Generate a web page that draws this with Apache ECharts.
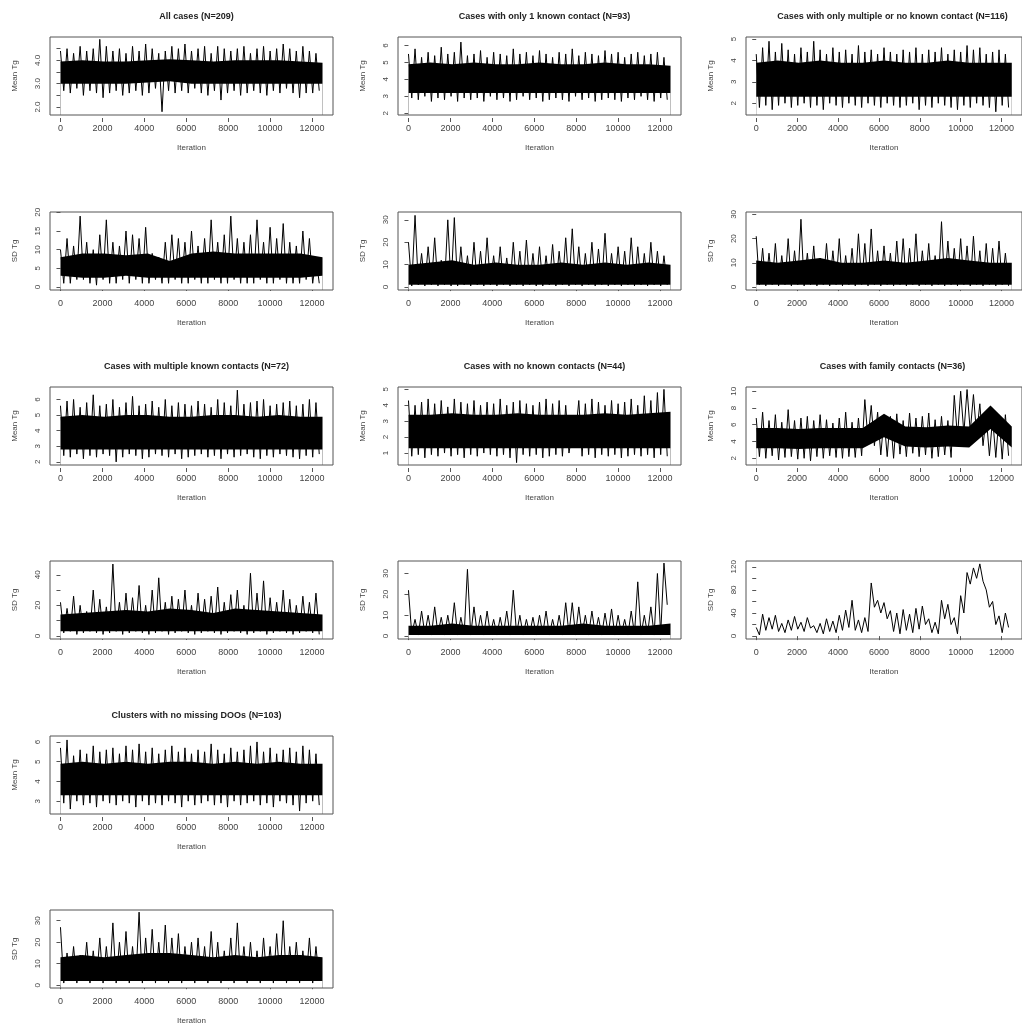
<!DOCTYPE html>
<html>
<head>
<meta charset="utf-8">
<script src="https://cdn.jsdelivr.net/npm/echarts@6/dist/echarts.min.js"></script>
<style>
  html, body { margin: 0; padding: 0; background: #fff; }
  #main { width: 1022px; height: 1028px; }
</style>
</head>
<body>
<div id="main"></div>
<script>
// panel titles (one per mean/sd pair)
var titles = ["All cases (N=209)", "Cases with only 1 known contact (N=93)",
  "Cases with only multiple or no known contact (N=116)", "Cases with multiple known contacts (N=72)",
  "Cases with no known contacts (N=44)", "Cases with family contacts (N=36)",
  "Clusters with no missing DOOs (N=103)"];

var xTicks = [0, 2000, 4000, 6000, 8000, 10000, 12000];

// trace envelopes: spike tops (hi) and bottoms (lo)
var p1mHi = [4.4,4.5,4.3,4.6,4.4,4.5,4.9,4.6,4.4,4.5,4.3,4.6,4.4,4.7,4.5,4.3,4.4,4.6,4.5,4.7,4.4,4.5,4.6,4.3,4.6,4.5,4.4,4.5,4.6,4.3,4.5,4.6,4.4,4.5,4.7,4.5,4.4,4.6,4.4,4.3];
var p1mLo = [2.7,2.6,2.8,2.5,2.7,2.6,2.4,2.6,2.7,2.5,2.6,2.7,2.5,2.6,2.8,1.8,2.7,2.6,2.7,2.6,2.8,2.6,2.5,2.7,2.3,2.6,2.7,2.5,2.6,2.7,2.6,2.5,2.7,2.6,2.8,2.6,2.4,2.6,2.6,2.7];
var p1sHi = [10,13,11,19,12,10,14,18,12,11,15,14,13,16,9,8,12,14,13,12,15,11,13,18,12,14,19,13,12,14,18,12,16,13,17,12,11,15,13,8];
var p1sLo = [1,1,2,2,1,0.5,2,1,1,2,1,2,1,1,2,1,1,2,1,1,2,1,1,2,1,1,2,1,1,1,2,1,1,2,1,1,1,2,1,1];
var p2mHi = [5.5,5.8,5.3,5.6,5.4,5.9,5.5,5.6,6.2,5.4,5.5,5.7,5.3,5.6,5.5,5.4,5.8,5.5,5.6,5.4,5.7,5.5,5.3,5.6,5.5,5.8,5.4,5.6,5.5,5.4,5.7,5.5,5.6,5.3,5.5,5.6,5.4,5.5,5.6,5.3];
var p2mLo = [2.9,2.8,3.0,2.7,2.9,2.8,3.0,2.7,2.9,2.8,2.9,2.7,3.0,2.8,2.9,2.7,2.8,3.0,2.8,2.9,2.7,2.8,2.9,2.8,2.7,3.0,2.8,2.9,2.7,2.8,2.9,2.8,2.7,2.9,2.8,3.0,2.8,2.7,2.9,2.8];
var p2sHi = [20,32,15,18,22,12,30,31,18,14,20,16,22,14,18,13,20,16,21,15,18,14,19,16,22,26,18,15,20,17,24,15,18,16,22,18,15,20,16,14];
var p2sLo = [0.5,1,0.5,1,0.5,1,0.5,0.5,1,0.5,1,0.5,1,0.5,1,0.5,1,0.5,1,0.5,0.5,1,0.5,1,0.5,1,0.5,1,0.5,1,0.5,1,0.5,1,0.5,1,0.5,1,0.5,1];
var p3mHi = [4.3,4.6,4.9,4.4,4.8,4.5,4.3,4.6,4.4,4.9,4.5,4.3,4.6,4.4,4.5,4.3,4.7,4.4,4.5,4.3,4.6,4.4,4.3,4.5,4.4,4.6,4.3,4.5,4.4,4.6,4.3,4.5,4.4,4.7,4.5,4.6,4.3,4.4,4.5,4.3];
var p3mLo = [1.8,1.9,1.7,1.9,2.0,1.8,1.9,2.0,1.8,1.9,1.7,2.0,1.9,1.8,2.0,1.9,1.8,2.0,1.9,1.8,2.0,1.9,1.8,1.9,2.0,1.7,1.9,1.8,2.0,1.9,1.8,1.7,1.9,1.8,2.0,1.9,1.8,1.6,1.9,1.8];
var p3sHi = [21,16,14,18,13,20,15,28,14,17,12,18,15,20,13,16,22,18,24,15,17,14,19,20,16,22,15,18,13,27,19,16,20,17,21,15,18,16,19,14];
var p3sLo = [1,0.5,1,0.5,1,0.5,1,0.5,1,0.5,1,0.5,1,0.5,1,0.5,1,0.5,1,0.5,1,0.5,1,0.5,1,0.5,1,0.5,1,0.5,1,0.5,1,0.5,1,0.5,1,0.5,1,0.5];
var p4mHi = [5.6,5.9,6.0,5.5,5.8,6.3,5.6,5.7,6.0,5.5,5.8,6.2,5.6,5.7,5.9,5.5,6.0,5.6,5.8,5.7,5.6,5.9,5.7,5.5,6.0,5.8,5.6,6.6,5.7,5.8,5.9,6.0,5.6,5.7,5.8,5.9,5.6,5.7,6.0,5.8];
var p4mLo = [2.4,2.3,2.5,2.2,2.4,2.3,2.5,2.4,2.0,2.3,2.5,2.4,2.2,2.3,2.5,2.4,2.3,2.5,2.2,2.3,2.4,2.5,2.3,2.4,2.2,2.5,2.3,2.4,2.5,2.3,2.2,2.4,2.3,2.5,2.4,2.3,2.2,2.4,2.3,2.5];
var p4sHi = [22,18,26,20,16,30,24,19,47,22,28,25,33,20,30,38,22,26,24,30,20,28,24,26,32,22,27,30,20,41,28,36,25,22,30,24,20,26,22,28];
var p4sLo = [2,3,1,2,3,2,1,2,3,1,2,3,2,1,2,3,1,2,3,2,1,2,3,2,1,2,3,2,1,2,3,1,2,3,2,1,2,3,2,1];
var p5mHi = [4.3,4.0,4.2,4.4,4.1,4.3,3.9,4.4,4.2,4.1,4.3,4.0,4.2,4.1,4.4,4.0,4.2,4.3,4.1,4.0,4.2,4.4,4.1,4.3,4.0,2.3,4.3,4.1,4.4,4.2,4.0,4.3,4.1,4.2,4.4,4.0,4.6,4.3,4.8,5.0];
var p5mLo = [0.8,0.9,0.7,0.9,0.8,1.0,0.8,0.9,0.7,0.9,0.8,1.0,0.9,0.8,0.9,0.7,0.4,0.9,0.8,0.9,0.7,0.8,0.9,0.8,1.0,2.1,0.8,0.9,0.7,0.9,0.8,0.9,0.7,0.8,0.9,0.8,0.9,0.7,0.9,0.8];
var p5sHi = [22,8,12,10,14,9,10,16,9,32,14,10,12,8,9,12,22,10,8,9,10,12,8,10,16,16,14,10,12,9,11,13,10,8,12,26,10,14,30,35];
var p5sLo = [1,0.5,1,0.5,1,0.5,1,0.5,1,0.5,1,0.5,1,0.5,1,0.5,1,0.5,1,0.5,1,0.5,1,0.5,1,0.5,1,0.5,1,0.5,1,0.5,1,0.5,1,0.5,1,0.5,1,15];
var p6mHi = [6.8,7.5,6.5,7.2,6.3,7.8,6.5,6.8,7.0,6.5,7.2,6.6,6.2,6.8,7.5,6.3,6.8,9.0,8.3,7.5,6.8,7.0,7.3,6.5,7.4,6.8,7.0,7.4,6.6,7.0,6.5,9.5,10.0,10.2,9.6,8.5,7.0,6.8,7.0,7.2];
var p6mLo = [2.2,2.0,2.3,1.8,2.1,2.2,1.9,2.0,1.7,2.2,2.0,2.3,2.1,2.0,2.2,2.1,2.3,4.2,3.5,2.4,2.2,2.0,2.5,2.2,2.6,2.2,2.4,2.0,2.2,2.4,2.1,4.5,5.0,5.2,4.8,3.5,2.3,2.1,1.9,2.3];
var p6sHi = [15,38,32,36,22,28,34,24,32,18,22,30,26,36,45,62,28,32,92,62,58,44,40,46,38,48,52,30,24,62,55,32,70,110,118,125,80,60,35,40];
var p6sLo = [2,10,12,8,6,10,12,8,14,6,4,8,6,10,15,10,6,8,50,40,30,8,4,10,6,12,20,6,4,30,20,4,40,90,100,95,50,20,6,15];
var p7mHi = [5.7,6.1,5.3,5.6,5.4,5.8,5.5,5.6,5.7,5.4,5.8,5.6,5.9,5.5,5.7,5.4,5.6,5.8,5.5,5.7,5.4,5.6,5.5,5.9,5.6,5.4,5.7,5.5,5.6,5.8,6.0,5.5,5.7,5.4,5.6,5.7,5.5,5.8,5.6,5.4];
var p7mLo = [2.9,2.6,3.0,2.8,2.9,2.7,3.0,2.9,2.8,3.0,2.9,2.7,3.0,2.8,2.9,2.8,3.0,2.9,2.7,3.0,2.8,2.9,3.0,2.8,2.9,2.7,3.0,2.8,2.9,3.0,2.8,2.9,2.7,3.0,2.9,2.8,2.5,2.9,3.0,2.8];
var p7sHi = [27,15,18,14,20,16,22,18,29,20,25,18,34,22,26,20,28,22,24,18,20,22,18,25,20,16,22,29,18,20,16,22,18,24,30,18,20,16,22,18];
var p7sLo = [1,2,1,2,1,2,1,2,1,2,1,2,1,2,1,2,1,2,1,2,1,2,1,2,1,2,1,2,1,2,1,2,1,2,1,2,1,2,1,2];

// solid core of each trace, read every ~1000 iterations (13 points)
var p1mCoreLo = [3.0,3.0,3.0,3.0,3.05,3.1,3.0,3.0,3.0,3.0,3.0,3.0,3.0];
var p1mCoreHi = [3.95,4.0,3.95,3.95,4.0,4.05,4.0,3.95,4.0,4.0,4.0,3.95,3.9];
var p1sCoreLo = [3,2.5,2.5,3,2.5,2.5,2.5,2.5,2.5,2.5,2.5,2.5,3];
var p1sCoreHi = [8,9,9,8.5,9,7,9,9.5,9,9,9,9,8];
var p2mCoreLo = [3.2,3.2,3.2,3.2,3.2,3.2,3.2,3.2,3.2,3.2,3.2,3.2,3.2];
var p2mCoreHi = [4.9,5.0,4.9,5.0,4.9,4.9,5.0,4.9,4.9,5.0,4.9,4.9,4.8];
var p2sCoreLo = [1,1,1,1,1,1,1,1,1,1,1,1,1];
var p2sCoreHi = [10,11,12,10,11,10,10,11,10,11,10,11,10];
var p3mCoreLo = [2.3,2.3,2.3,2.3,2.3,2.3,2.3,2.3,2.3,2.3,2.3,2.3,2.3];
var p3mCoreHi = [3.9,4.0,3.9,4.0,3.9,3.9,4.0,3.9,3.9,4.0,3.9,3.9,3.9];
var p3sCoreLo = [1,1,1,1,1,1,1,1,1,1,1,1,1];
var p3sCoreHi = [11,10,11,12,10,10,11,10,11,12,11,10,10];
var p4mCoreLo = [2.8,2.8,2.8,2.8,2.8,2.8,2.8,2.8,2.8,2.8,2.8,2.8,2.8];
var p4mCoreHi = [4.9,5.0,4.9,5.0,5.0,4.9,4.9,5.0,5.0,4.9,5.0,4.9,4.9];
var p4sCoreLo = [3,3,3,3,3,3,3,3,3,3,3,3,3];
var p4sCoreHi = [14,15,16,17,16,18,17,15,18,17,16,15,14];
var p5mCoreLo = [1.3,1.3,1.3,1.3,1.3,1.3,1.3,1.3,1.3,1.3,1.3,1.3,1.3];
var p5mCoreHi = [3.4,3.4,3.5,3.4,3.4,3.5,3.4,3.4,3.4,3.5,3.4,3.5,3.6];
var p5sCoreLo = [0.5,0.5,0.5,0.5,0.5,0.5,0.5,0.5,0.5,0.5,0.5,0.5,0.5];
var p5sCoreHi = [5,5,6,5,5,5,5,5,6,5,5,5,6];
var p6mCoreLo = [3.2,3.2,3.1,3.2,3.2,3.2,4.5,3.4,3.3,3.4,3.3,5.5,3.3];
var p6mCoreHi = [5.6,5.6,5.5,5.6,5.6,5.6,7.3,5.8,5.7,5.9,5.8,8.3,5.8];
var p6sCoreLo = [];
var p6sCoreHi = [];
var p7mCoreLo = [3.3,3.3,3.3,3.3,3.3,3.3,3.3,3.3,3.3,3.3,3.3,3.3,3.3];
var p7mCoreHi = [4.9,5.0,4.9,5.0,4.9,5.0,5.0,4.9,5.0,4.9,5.0,4.9,4.9];
var p7sCoreLo = [2,2,2,2,2,2,2,2,2,2,2,2,2];
var p7sCoreHi = [13,14,13,14,15,15,14,13,14,13,14,14,13];

// y ticks and labelled ticks per panel
var panels = [
  {hi: p1mHi, lo: p1mLo, cLo: p1mCoreLo, cHi: p1mCoreHi, name: 'Mean Tg', min: 1.66, max: 5.0, ticks: [2,2.5,3,3.5,4,4.5], labels: [2,3,4], fmt: 1},
  {hi: p1sHi, lo: p1sLo, cLo: p1sCoreLo, cHi: p1sCoreHi, name: 'SD Tg', min: -0.8, max: 20.1, ticks: [0,5,10,15,20], labels: [0,5,10,15,20], fmt: 0},
  {hi: p2mHi, lo: p2mLo, cLo: p2mCoreLo, cHi: p2mCoreHi, name: 'Mean Tg', min: 1.9, max: 6.5, ticks: [2,3,4,5,6], labels: [2,3,4,5,6], fmt: 0},
  {hi: p2sHi, lo: p2sLo, cLo: p2sCoreLo, cHi: p2sCoreHi, name: 'SD Tg', min: -1.3, max: 33.5, ticks: [0,10,20,30], labels: [0,10,20,30], fmt: 0},
  {hi: p3mHi, lo: p3mLo, cLo: p3mCoreLo, cHi: p3mCoreHi, name: 'Mean Tg', min: 1.45, max: 5.1, ticks: [2,3,4,5], labels: [2,3,4,5], fmt: 0},
  {hi: p3sHi, lo: p3sLo, cLo: p3sCoreLo, cHi: p3sCoreHi, name: 'SD Tg', min: -1.2, max: 31, ticks: [0,10,20,30], labels: [0,10,20,30], fmt: 0},
  {hi: p4mHi, lo: p4mLo, cLo: p4mCoreLo, cHi: p4mCoreHi, name: 'Mean Tg', min: 1.8, max: 6.8, ticks: [2,3,4,5,6], labels: [2,3,4,5,6], fmt: 0},
  {hi: p4sHi, lo: p4sLo, cLo: p4sCoreLo, cHi: p4sCoreHi, name: 'SD Tg', min: -2, max: 49, ticks: [0,10,20,30,40], labels: [0,20,40], fmt: 0},
  {hi: p5mHi, lo: p5mLo, cLo: p5mCoreLo, cHi: p5mCoreHi, name: 'Mean Tg', min: 0.25, max: 5.15, ticks: [1,2,3,4,5], labels: [1,2,3,4,5], fmt: 0},
  {hi: p5sHi, lo: p5sLo, cLo: p5sCoreLo, cHi: p5sCoreHi, name: 'SD Tg', min: -1.4, max: 36, ticks: [0,10,20,30], labels: [0,10,20,30], fmt: 0},
  {hi: p6mHi, lo: p6mLo, cLo: p6mCoreLo, cHi: p6mCoreHi, name: 'Mean Tg', min: 1.2, max: 10.5, ticks: [2,4,6,8,10], labels: [2,4,6,8,10], fmt: 0},
  {hi: p6sHi, lo: p6sLo, cLo: p6sCoreLo, cHi: p6sCoreHi, name: 'SD Tg', min: -5, max: 130, ticks: [0,20,40,60,80,100,120], labels: [0,40,80,120], fmt: 0},
  {hi: p7mHi, lo: p7mLo, cLo: p7mCoreLo, cHi: p7mCoreHi, name: 'Mean Tg', min: 2.35, max: 6.3, ticks: [3,4,5,6], labels: [3,4,5,6], fmt: 0},
  {hi: p7sHi, lo: p7sLo, cLo: p7sCoreLo, cHi: p7sCoreHi, name: 'SD Tg', min: -1.3, max: 35, ticks: [0,10,20,30], labels: [0,10,20,30], fmt: 0}
];

var colLeft = [50, 398, 746];
var rowTop = [37, 212, 387, 561, 736, 910];
var boxW = 283, boxH = 78;
var txt = '#444';
var font = 'Liberation Sans';

var grid = [], xAxis = [], yAxis = [], series = [], title = [];

panels.forEach(function (p, k) {
  var pair = Math.floor(k / 2);
  var col = pair % 3;
  var row = Math.floor(pair / 3) * 2 + (k % 2);
  var left = colLeft[col], top = rowTop[row];

  grid.push({left: left, top: top, width: boxW, height: boxH, show: true, z: 5,
    borderColor: '#555', borderWidth: 1, backgroundColor: 'transparent'});

  xAxis.push({type: 'value', gridIndex: k, min: -500, max: 13000, offset: 3,
    name: 'Iteration', nameLocation: 'middle', nameGap: 26,
    nameTextStyle: {color: txt, fontSize: 8, fontFamily: font},
    axisLine: {show: false}, splitLine: {show: false},
    axisTick: {show: true, length: 4, customValues: xTicks, lineStyle: {color: '#555'}},
    axisLabel: {customValues: xTicks, color: txt, fontSize: 9, fontFamily: font, margin: 6,
      formatter: function (v) { return String(v); }}});

  yAxis.push({type: 'value', gridIndex: k, min: p.min, max: p.max, offset: 3,
    name: p.name, nameLocation: 'middle', nameGap: 28,
    nameTextStyle: {color: txt, fontSize: 8, fontFamily: font},
    axisLine: {show: false}, splitLine: {show: false},
    axisTick: {show: true, length: 4, customValues: p.ticks, lineStyle: {color: '#555'}},
    axisLabel: {customValues: p.labels, color: txt, fontSize: 8, fontFamily: font, rotate: 90, margin: 5,
      formatter: function (v) { return p.fmt ? v.toFixed(1) : String(v); }}});

  // solid core band: black down to the axis, then white below the core's lower edge
  var cStep = 12500 / 12;
  var upper = p.cHi.map(function (v, j) { return [j * cStep, v]; });
  var lower = p.cLo.map(function (v, j) { return [j * cStep, v]; });
  series.push({type: 'line', xAxisIndex: k, yAxisIndex: k, data: upper, showSymbol: false, silent: true,
    lineStyle: {width: 0}, areaStyle: {color: '#000', opacity: 1, origin: 'start'}});
  series.push({type: 'line', xAxisIndex: k, yAxisIndex: k, data: lower, showSymbol: false, silent: true,
    lineStyle: {width: 0}, areaStyle: {color: '#fff', opacity: 1, origin: 'start'}});

  // zigzag trace from the envelope values
  var step = 12500 / p.hi.length;
  var data = [];
  for (var i = 0; i < p.hi.length; i++) {
    data.push([i * step, p.hi[i]]);
    data.push([i * step + step / 2, p.lo[i]]);
  }
  series.push({type: 'line', xAxisIndex: k, yAxisIndex: k, data: data, showSymbol: false,
    silent: true, lineStyle: {color: '#000', width: 1}});

  if (k % 2 === 0) {
    title.push({text: titles[pair], left: left + boxW / 2, top: top - 30, textAlign: 'center',
      textStyle: {color: '#222', fontSize: 9, fontWeight: 'bold', fontFamily: font}});
  }
});

var myChart = echarts.init(document.getElementById('main'));
myChart.setOption({
  animation: false,
  title: title,
  grid: grid,
  xAxis: xAxis,
  yAxis: yAxis,
  series: series
});
</script>
</body>
</html>
